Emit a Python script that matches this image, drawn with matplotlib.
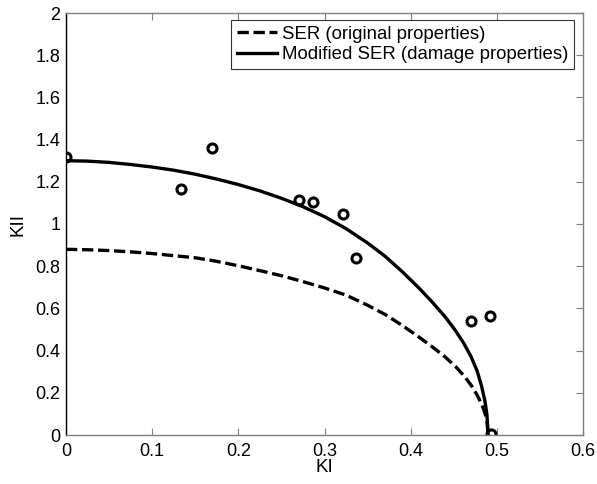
import matplotlib
matplotlib.use("Agg")
import matplotlib.pyplot as plt

# Experimental points
ki_pts = [0.0, 0.134, 0.169, 0.270, 0.287, 0.321, 0.337, 0.470, 0.492, 0.493]
kii_pts = [1.319, 1.164, 1.362, 1.114, 1.105, 1.046, 0.837, 0.540, 0.565, 0.003]

# SER (original properties) curve
ser_ki = [0.0, 0.025, 0.05, 0.075, 0.10, 0.125, 0.15, 0.175, 0.20, 0.225, 0.25, 0.275,
          0.30, 0.325, 0.35, 0.37, 0.39, 0.41, 0.425, 0.44, 0.452, 0.462, 0.47, 0.477,
          0.482, 0.486, 0.4885, 0.49]
ser_kii = [0.880, 0.878, 0.874, 0.868, 0.860, 0.850, 0.840, 0.823, 0.802, 0.779, 0.755,
           0.727, 0.697, 0.663, 0.615, 0.572, 0.520, 0.463, 0.418, 0.370, 0.325, 0.280,
           0.237, 0.190, 0.150, 0.108, 0.065, 0.0]

# Modified SER (damage properties) curve
mod_ki = [0.0, 0.025, 0.05, 0.075, 0.10, 0.125, 0.15, 0.175, 0.20, 0.225, 0.25, 0.275,
          0.30, 0.325, 0.35, 0.37, 0.39, 0.41, 0.425, 0.44, 0.452, 0.462, 0.47, 0.477,
          0.482, 0.486, 0.4885, 0.49]
mod_kii = [1.300, 1.298, 1.292, 1.282, 1.270, 1.255, 1.236, 1.213, 1.187, 1.157, 1.122,
           1.082, 1.035, 0.978, 0.910, 0.848, 0.775, 0.695, 0.630, 0.560, 0.495, 0.432,
           0.372, 0.305, 0.236, 0.165, 0.097, 0.0]

x_ticks = [0, 0.1, 0.2, 0.3, 0.4, 0.5, 0.6]
x_labels = ["0", "0.1", "0.2", "0.3", "0.4", "0.5", "0.6"]
y_ticks = [0, 0.2, 0.4, 0.6, 0.8, 1.0, 1.2, 1.4, 1.6, 1.8, 2.0]
y_labels = ["0", "0.2", "0.4", "0.6", "0.8", "1", "1.2", "1.4", "1.6", "1.8", "2"]

plt.rcParams["font.family"] = ["Liberation Sans", "DejaVu Sans"]

fig = plt.figure(figsize=(5.97, 4.84), dpi=100)
ax = fig.add_axes([66 / 597, 49 / 484, 517 / 597, 422 / 484])

ax.plot(ser_ki, ser_kii, color="black", lw=2.4, linestyle=(0, (3.4, 1.4)),
        label="SER (original properties)")
ax.plot(mod_ki, mod_kii, color="black", lw=2.4, label="Modified SER (damage properties)")
ax.plot(ki_pts, kii_pts, linestyle="none", marker="o", ms=6.5, mew=2.2,
        mfc="none", mec="black")

ax.set_xlim(0, 0.6)
ax.set_ylim(0, 2)
ax.set_xticks(x_ticks)
ax.set_xticklabels(x_labels)
ax.set_yticks(y_ticks)
ax.set_yticklabels(y_labels)

gray = "#7f7f7f"
for side in ["top", "right", "bottom"]:
    ax.spines[side].set_color(gray)
ax.spines["left"].set_color("black")
for sp in ax.spines.values():
    sp.set_linewidth(1.0)

ax.tick_params(axis="both", direction="in", labelsize=13, colors=gray,
               labelcolor="black", top=True, right=True, length=5)
ax.tick_params(axis="y", which="both", left=False, pad=4)
ax.tick_params(axis="x", pad=6)

ax.set_xlabel("KI", fontsize=13.5, labelpad=-1)
ax.set_ylabel("KII", fontsize=13.5, labelpad=6)

leg = ax.legend(loc="upper right", bbox_to_anchor=(0.983, 0.983), fontsize=13.4,
                handlelength=2.15, handletextpad=0.3, fancybox=False, framealpha=1,
                borderpad=0.3, labelspacing=0.18, borderaxespad=0.0)
leg.get_frame().set_edgecolor("#333333")
leg.get_frame().set_linewidth(0.8)

fig.savefig("out.png", dpi=100)
